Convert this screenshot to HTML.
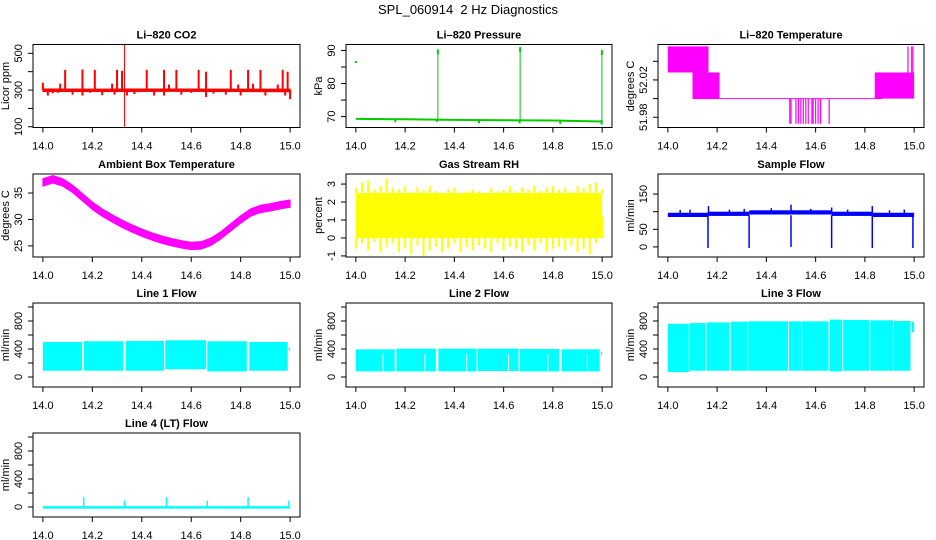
<!DOCTYPE html>
<html><head><meta charset="utf-8">
<style>
html,body{margin:0;padding:0;background:#fff;}
svg{display:block;font-family:"Liberation Sans",Arial,sans-serif;}
</style></head>
<body>
<svg id="chart" width="936" height="540" viewBox="0 0 936 540" xmlns="http://www.w3.org/2000/svg">
<text x="468" y="14" text-anchor="middle" font-size="13" style="white-space:pre" xml:space="preserve">SPL_060914  2 Hz Diagnostics</text>
</svg>
<script>
// ---- shared x axis
const xTicks = [14.0, 14.2, 14.4, 14.6, 14.8, 15.0];
const xTickLabels = ["14.0", "14.2", "14.4", "14.6", "14.8", "15.0"];

// ---- CO2
const co2BaseX = [14.0, 14.25, 14.5, 14.75, 15.0];
const co2BaseLo = [292, 292, 293, 292, 291];
const co2BaseHi = [306, 305, 306, 305, 305];
const co2SpikeX = [14.0, 14.07, 14.09, 14.16, 14.21, 14.28, 14.30, 14.32, 14.42, 14.49, 14.51, 14.54, 14.63, 14.66, 14.76, 14.79, 14.83, 14.85, 14.88, 14.95, 14.97, 14.99];
const co2SpikeY = [340, 335, 410, 412, 410, 335, 410, 405, 410, 410, 330, 410, 410, 400, 410, 330, 410, 335, 410, 330, 410, 400];
const co2DipX = [14.02, 14.04, 14.06, 14.12, 14.16, 14.19, 14.24, 14.29, 14.34, 14.37, 14.45, 14.49, 14.56, 14.6, 14.66, 14.69, 14.74, 14.8, 14.9, 14.98, 15.0];
const co2DipY = [270, 282, 285, 275, 270, 285, 272, 275, 270, 278, 270, 270, 275, 285, 262, 280, 275, 270, 270, 270, 250];
const co2BigX = [14.33];
const co2BigLo = [100];
const co2BigHi = [545];

// ---- Pressure
const presBaseX = [14.0, 14.2, 14.4, 14.6, 14.8, 15.0];
const presBaseY = [69.3, 69.2, 69.0, 68.9, 68.8, 68.5];
const presSpikeX = [14.333, 14.667, 14.999];
const presSpikeTop = [90.3, 91.0, 90.1];
const presDipX = [14.16, 14.33, 14.5, 14.665, 14.83, 14.998];
const presDipY = [68.3, 68.4, 68.0, 68.0, 67.8, 67.6];
const presPointX = [14.0];
const presPointY = [86.5];

// ---- Li-820 temperature
const tBlkStart = [14.0, 14.1, 14.84];
const tBlkEnd = [14.165, 14.21, 15.0];
const tBlkLo = [52.028, 52.0, 52.0];
const tBlkHi = [52.056, 52.028, 52.028];
const tLineStart = [14.1];
const tLineEnd = [14.87];
const tLineY = [52.0];
const tDropX = [14.495, 14.5, 14.52, 14.53, 14.54, 14.55, 14.56, 14.57, 14.585, 14.59, 14.6, 14.61, 14.62, 14.655];
const tDropLo = 51.973;
const tUpX = [14.975, 14.99, 14.995];
const tUpHi = 52.056;

// ---- Ambient box temperature
const ambX = [14.0, 14.04, 14.08, 14.12, 14.16, 14.2, 14.24, 14.28, 14.32, 14.36, 14.4, 14.44, 14.48, 14.52, 14.56, 14.6, 14.64, 14.68, 14.72, 14.76, 14.8, 14.84, 14.88, 14.92, 14.96, 15.0];
const ambMid = [37.0, 37.6, 37.0, 35.8, 34.2, 32.6, 31.3, 30.2, 29.2, 28.3, 27.5, 26.8, 26.2, 25.7, 25.3, 25.0, 25.1, 25.8, 27.0, 28.5, 30.0, 31.3, 32.0, 32.3, 32.7, 33.0];
const ambHalf = 0.7;

// ---- Gas stream RH
const rhX = [14.0,14.025,14.05,14.075,14.1,14.125,14.15,14.175,14.2,14.225,14.25,14.275,14.3,14.325,14.35,14.375,14.4,14.425,14.45,14.475,14.5,14.525,14.55,14.575,14.6,14.625,14.65,14.675,14.7,14.725,14.75,14.775,14.8,14.825,14.85,14.875,14.9,14.925,14.95,14.975,15.0];
const rhHi = [2.8,3.1,3.2,2.7,2.9,3.3,2.8,2.7,2.9,2.6,2.8,2.7,2.9,2.6,2.5,2.7,2.8,2.5,2.6,2.7,2.6,2.5,2.8,2.6,2.7,2.9,2.6,2.8,2.7,2.9,2.6,2.8,2.9,2.7,2.8,2.6,2.9,2.8,3.0,3.1,2.7];
const rhLo = [-0.6,-0.3,-0.7,-0.2,-0.8,-0.5,-0.3,-0.8,-0.6,-0.9,-0.4,-1.0,-0.7,-0.5,-0.8,-0.6,-0.3,-0.8,-0.5,-0.7,-0.4,-0.6,-0.8,-0.3,-0.7,-0.5,-0.6,-0.8,-0.4,-0.7,-0.3,-0.8,-0.6,-0.5,-0.7,-0.4,-0.8,-0.6,-0.9,-0.3,1.2];
const rhCoreLo = 0.0;
const rhCoreHi = 2.5;

// ---- Sample flow
const sfStart = [14.0, 14.165, 14.33, 14.5, 14.665, 14.83];
const sfEnd = [14.165, 14.33, 14.5, 14.665, 14.83, 15.0];
const sfLo = [85, 88, 92, 92, 88, 85];
const sfHi = [97, 100, 104, 104, 100, 97];
const sfDropX = [14.163, 14.33, 14.5, 14.665, 14.83, 14.995];
const sfDropY = [-3, -3, 0, -3, -3, -3];
const sfSpikeX = [14.05, 14.09, 14.165, 14.25, 14.31, 14.42, 14.5, 14.58, 14.665, 14.73, 14.83, 14.9, 14.96];
const sfSpikeY = [105, 106, 116, 106, 108, 110, 120, 108, 112, 106, 116, 104, 106];

// ---- Line 1 flow
const l1Start = [14.0, 14.165, 14.335, 14.495, 14.665, 14.835, 14.995];
const l1End = [14.158, 14.325, 14.49, 14.66, 14.825, 14.99, 15.0];
const l1Lo = [90, 90, 90, 110, 80, 90, 380];
const l1Hi = [500, 510, 515, 525, 510, 500, 420];

// ---- Line 2 flow
const l2Start = [14.0, 14.165, 14.335, 14.495, 14.665, 14.835, 14.995];
const l2End = [14.158, 14.325, 14.49, 14.66, 14.825, 14.99, 15.0];
const l2Lo = [80, 80, 80, 85, 80, 80, 310];
const l2Hi = [395, 405, 405, 405, 400, 395, 360];
const l2GapX = [14.11, 14.28, 14.45, 14.62, 14.78, 14.94];
const l2GapTop = 330;

// ---- Line 3 flow
const l3Start = [14.0, 14.088, 14.157, 14.255, 14.326, 14.492, 14.545, 14.657, 14.712, 14.822, 14.918, 14.99];
const l3End = [14.085, 14.153, 14.25, 14.322, 14.488, 14.542, 14.652, 14.708, 14.818, 14.914, 14.985, 15.0];
const l3Lo = [70, 90, 90, 90, 90, 90, 90, 80, 90, 90, 90, 640];
const l3Hi = [760, 770, 780, 790, 795, 795, 795, 820, 815, 810, 800, 790];

// ---- Line 4 flow
const l4BaseX = [14.0, 15.0];
const l4BaseY = [-5, -5];
const l4SpikeX = [14.165, 14.33, 14.5, 14.665, 14.83, 14.995];
const l4SpikeY = [140, 90, 140, 90, 140, 90];

const NS = "http://www.w3.org/2000/svg";
const svg = document.getElementById('chart');
function mk(tag, attrs, parent) {
  const e = document.createElementNS(NS, tag);
  for (const k in attrs) e.setAttribute(k, attrs[k]);
  (parent || svg).appendChild(e);
  return e;
}

const cols = [[33, 300], [346, 612], [658, 924]];
const rows = [[44.5, 127.5], [174, 257], [303, 387], [433, 517]];

function panel(name, title, col, row, yMin, yMax, yTicks, yLabels, yTitle) {
  const [x0, x1] = cols[col], [y0, y1] = rows[row];
  const g = mk('g', {});
  
  
  const sx = v => x0 + (v - 13.96) / (15.04 - 13.96) * (x1 - x0);
  const sy = v => y1 - (v - yMin) / (yMax - yMin) * (y1 - y0);
  const plot = mk('g', {}, g);
  
  
  const t = mk('text', {x: (x0 + x1) / 2, y: y0 - 6, 'text-anchor': 'middle', 'font-size': 11, 'font-weight': 'bold'}, g);
  
  
  t.textContent = title;
  const xa = mk('g', {stroke: '#000', 'stroke-width': 1, fill: 'none'}, g);
  
  
  mk('line', {x1: sx(14), x2: sx(15), y1: y1, y2: y1}, xa);
  xTicks.forEach((v, i) => {
    mk('line', {x1: sx(v), x2: sx(v), y1: y1, y2: y1 + 5}, xa);
    const lt = mk('text', {x: sx(v), y: y1 + 22, 'text-anchor': 'middle', 'font-size': 11, fill: '#000', stroke: 'none'}, g);
    
    
    lt.textContent = xTickLabels[i];
  });
  const ya = mk('g', {stroke: '#000', 'stroke-width': 1, fill: 'none'}, g);
  
  
  yTicks.forEach((v, i) => {
    mk('line', {x1: x0 - 5, x2: x0, y1: sy(v), y2: sy(v)}, ya);
    if (yLabels[i] !== '') {
      const lx = x0 - 11, ly = sy(v);
      const lt = mk('text', {x: lx, y: ly, 'text-anchor': 'middle', 'font-size': 11, fill: '#000', stroke: 'none', transform: `rotate(-90 ${lx} ${ly})`}, g);
      
      
      lt.textContent = yLabels[i];
    }
  });
  const tx = x0 - 24, ty = (y0 + y1) / 2;
  const yt = mk('text', {x: tx, y: ty, 'text-anchor': 'middle', 'font-size': 11, transform: `rotate(-90 ${tx} ${ty})`}, g);
  
  
  yt.textContent = yTitle;
  const box = mk('rect', {x: x0, y: y0, width: x1 - x0, height: y1 - y0, fill: 'none', stroke: '#000', 'stroke-width': 1}, g);
  
  
  return {sx, sy, plot};
}
function vline(p, x, a, b, color, w, nm) {
  const l = mk('line', {x1: p.sx(x), x2: p.sx(x), y1: p.sy(a), y2: p.sy(b), stroke: color, 'stroke-width': w}, p.plot);
  
  
}
function band(p, xs, lo, hi, color, nm) {
  let pts = xs.map((x, i) => p.sx(x) + ',' + p.sy(hi[i]));
  for (let i = xs.length - 1; i >= 0; i--) pts.push(p.sx(xs[i]) + ',' + p.sy(lo[i]));
  const e = mk('polygon', {points: pts.join(' '), fill: color, stroke: color, 'stroke-width': 1}, p.plot);
  
  
}
function rectSeg(p, a, b, lo, hi, color, nm) {
  const e = mk('rect', {x: p.sx(a), y: p.sy(hi), width: Math.max(1, p.sx(b) - p.sx(a)), height: p.sy(lo) - p.sy(hi), fill: color}, p.plot);
  
  
}

// CO2
let p = panel('co2', 'Li–820 CO2', 0, 0, 96, 548, [100, 200, 300, 400, 500], ['100', '', '300', '', '500'], 'Licor ppm');
co2SpikeX.forEach((x, i) => vline(p, x, 300, co2SpikeY[i], '#f00', 2, 'co2-spike'));
co2DipX.forEach((x, i) => vline(p, x, 300, co2DipY[i], '#f00', 2, 'co2-dip'));
band(p, co2BaseX, co2BaseLo, co2BaseHi, '#f00', 'co2-series');
co2BigX.forEach((x, i) => vline(p, x, co2BigLo[i], co2BigHi[i], '#f00', 1, 'co2-outlier'));

// Pressure
p = panel('pressure', 'Li–820 Pressure', 1, 0, 66.7, 91.8, [70, 75, 80, 85, 90], ['70', '', '80', '', '90'], 'kPa');
{
  const pl = mk('polyline', {points: presBaseX.map((x, i) => p.sx(x) + ',' + p.sy(presBaseY[i])).join(' '), fill: 'none', stroke: '#0c0', 'stroke-width': 2}, p.plot);
  
  
}
presSpikeX.forEach((x, i) => vline(p, x, 69, presSpikeTop[i], '#0c0', 1, 'pressure-spike'));
presSpikeX.forEach((x, i) => vline(p, x, presSpikeTop[i] - 1.5, presSpikeTop[i], '#0c0', 2, 'pressure-spike-top'));
presDipX.forEach((x, i) => vline(p, x, 69, presDipY[i], '#0c0', 2, 'pressure-dip'));
presPointX.forEach((x, i) => vline(p, x, presPointY[i] - 0.3, presPointY[i] + 0.3, '#0c0', 2, 'pressure-point'));

// Li-820 temperature
p = panel('li820-temp', 'Li–820 Temperature', 2, 0, 51.969, 52.058, [51.98, 52.0, 52.02, 52.04], ['51.98', '', '52.02', ''], 'degrees C');
tBlkStart.forEach((a, i) => rectSeg(p, a, tBlkEnd[i], tBlkLo[i], tBlkHi[i], '#f0f', 'li820-temp-block'));
tLineStart.forEach((a, i) => rectSeg(p, a, tLineEnd[i], tLineY[i] - 0.0005, tLineY[i] + 0.0005, '#f0f', 'li820-temp-level'));
tDropX.forEach(x => vline(p, x, tDropLo, 52.0, '#f0f', 1.2, 'li820-temp-drop'));
tUpX.forEach(x => vline(p, x, 52.02, tUpHi, '#f0f', 1.2, 'li820-temp-rise'));

// Ambient
p = panel('ambient-temp', 'Ambient Box Temperature', 0, 1, 22.9, 38.6, [25, 30, 35], ['25', '30', '35'], 'degrees C');
band(p, ambX, ambMid.map(v => v - ambHalf), ambMid.map(v => v + ambHalf), '#f0f', 'ambient-temp-series');

// RH
p = panel('gas-rh', 'Gas Stream RH', 1, 1, -1.06, 3.56, [-1, 0, 1, 2, 3], ['-1', '0', '1', '2', '3'], 'percent');
rectSeg(p, 14.0, 15.0, rhCoreLo, rhCoreHi, '#ff0', 'gas-rh-core');
rhX.forEach((x, i) => {
  vline(p, x, rhCoreHi, rhHi[i], '#ff0', 2, 'gas-rh-high');
  vline(p, x, rhCoreLo, rhLo[i], '#ff0', 2, 'gas-rh-low');
});

// Sample flow
p = panel('sample-flow', 'Sample Flow', 2, 1, -28.6, 207, [0, 50, 100, 150], ['0', '50', '', '150'], 'ml/min');
sfStart.forEach((a, i) => rectSeg(p, a, sfEnd[i], sfLo[i], sfHi[i], '#00f', 'sample-flow-segment'));
sfSpikeX.forEach((x, i) => vline(p, x, 95, sfSpikeY[i], '#00f', 1.5, 'sample-flow-spike'));
sfDropX.forEach((x, i) => vline(p, x, 90, sfDropY[i], '#00f', 1.5, 'sample-flow-drop'));

const flowTicks = [0, 200, 400, 600, 800, 1000];
const flowLabels = ['0', '', '400', '', '800', ''];
// Line 1
p = panel('line1-flow', 'Line 1 Flow', 0, 2, -143, 1057, flowTicks, flowLabels, 'ml/min');
l1Start.forEach((a, i) => rectSeg(p, a, l1End[i], l1Lo[i], l1Hi[i], '#0ff', 'line1-flow-segment'));
// Line 2
p = panel('line2-flow', 'Line 2 Flow', 1, 2, -143, 1057, flowTicks, flowLabels, 'ml/min');
l2Start.forEach((a, i) => rectSeg(p, a, l2End[i], l2Lo[i], l2Hi[i], '#0ff', 'line2-flow-segment'));
l2GapX.forEach(x => vline(p, x, 90, l2GapTop, '#fff', 1, 'line2-flow-gap'));
// Line 3
p = panel('line3-flow', 'Line 3 Flow', 2, 2, -143, 1057, flowTicks, flowLabels, 'ml/min');
l3Start.forEach((a, i) => rectSeg(p, a, l3End[i], l3Lo[i], l3Hi[i], '#0ff', 'line3-flow-segment'));
// Line 4
p = panel('line4-flow', 'Line 4 (LT) Flow', 0, 3, -143, 1057, flowTicks, flowLabels, 'ml/min');
{
  const pl = mk('polyline', {points: l4BaseX.map((x, i) => p.sx(x) + ',' + p.sy(l4BaseY[i])).join(' '), fill: 'none', stroke: '#0ff', 'stroke-width': 2.5}, p.plot);
  
  
}
l4SpikeX.forEach((x, i) => vline(p, x, 0, l4SpikeY[i], '#0ff', 1.5, 'line4-flow-spike'));
</script>
</body></html>
